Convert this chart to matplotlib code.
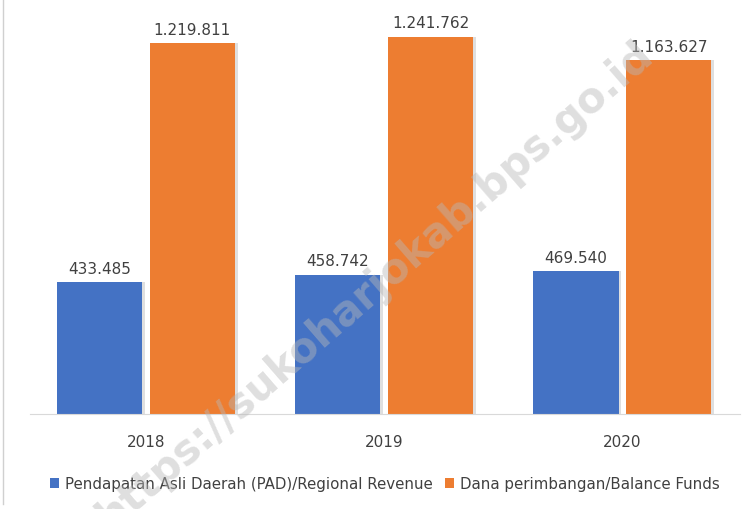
import numpy as np
import matplotlib.pyplot as plt
from matplotlib.lines import Line2D

years = ['2018', '2019', '2020']
pad = [433485, 458742, 469540]
balance = [1219811, 1241762, 1163627]
pad_labels = ['433.485', '458.742', '469.540']
balance_labels = ['1.219.811', '1.241.762', '1.163.627']

blue = '#4472C4'
orange = '#ED7D31'

fig = plt.figure(figsize=(7.5, 5.1), dpi=100)
ax = fig.add_axes([0.04, 0.186, 0.947, 0.794])

x = np.arange(len(years))
w = 0.36
off = 0.195

# soft shadow on the right of each bar
for xs, vals in [(x - off, pad), (x + off, balance)]:
    ax.bar(xs + 0.012, vals, w, color='#808080', alpha=0.25, zorder=1, linewidth=0)

b1 = ax.bar(x - off, pad, w, color=blue, label='Pendapatan Asli Daerah (PAD)/Regional Revenue', zorder=2)
b2 = ax.bar(x + off, balance, w, color=orange, label='Dana perimbangan/Balance Funds', zorder=2)

for rect, lab in zip(b1, pad_labels):
    ax.text(rect.get_x() + rect.get_width() / 2, rect.get_height() + 22000, lab,
            ha='center', va='bottom', fontsize=11, color='#404040')
for rect, lab in zip(b2, balance_labels):
    ax.text(rect.get_x() + rect.get_width() / 2, rect.get_height() + 22000, lab,
            ha='center', va='bottom', fontsize=11, color='#404040')

ax.set_xlim(-0.487, 2.496)
ax.set_ylim(0, 1331600)
ax.set_xticks(x)
ax.set_xticklabels(years, fontsize=11, color='#404040')
ax.tick_params(axis='x', length=0, pad=14)
ax.set_yticks([])
for s in ['top', 'right', 'left']:
    ax.spines[s].set_visible(False)
ax.spines['bottom'].set_color('#d9d9d9')

ax.legend(loc='upper center', bbox_to_anchor=(0.5, -0.12), ncol=2, frameon=False,
          fontsize=10.8, handlelength=0.6, handleheight=0.6, handletextpad=0.4,
          columnspacing=0.8, labelcolor='#404040')

# chart border on the left
fig.add_artist(Line2D([0.004, 0.004], [0.01, 1.0], color='#d0d0d0', lw=1))

# watermark
fig.text(0.5, 0.44, 'https://sukoharjokab.bps.go.id', rotation=41, fontsize=30,
         fontweight='bold', color='#b8b8b8', alpha=0.45, ha='center', va='center', zorder=10)

fig.savefig('out.png', dpi=100)
